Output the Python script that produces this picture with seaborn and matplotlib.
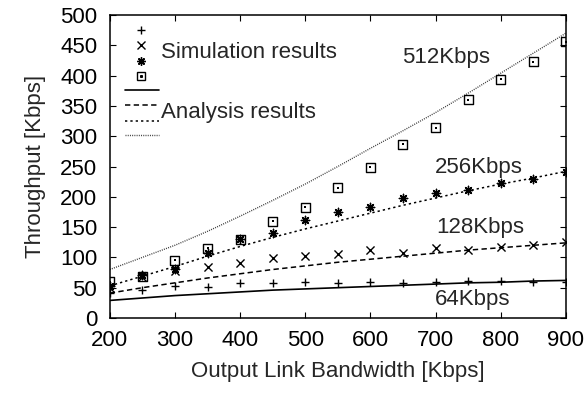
import numpy as np
import pandas as pd
import matplotlib
matplotlib.use("Agg")
import matplotlib.pyplot as plt
import seaborn as sns
from matplotlib.lines import Line2D

# Output link bandwidth [Kbps]
bandwidth = [200, 250, 300, 350, 400, 450, 500, 550, 600, 650, 700, 750, 800, 850, 900]

# Simulation results (throughput, Kbps) per input rate
sim_64 = [42, 46, 53, 51, 57, 57, 59, 58, 60, 57, 60, 61, 61, 59, 60]
sim_128 = [50, 68, 77, 84, 90, 99, 102, 106, 113, 107, 116, 113, 117, 120, 125]
sim_256 = [52, 71, 81, 107, 130, 140, 162, 175, 183, 198, 206, 212, 222, 230, 241]
sim_512 = [60, 69, 95, 115, 130, 160, 183, 215, 249, 287, 314, 360, 394, 423, 456]

# Analysis results (throughput, Kbps) per input rate
ana_64 = [29, 33, 37, 40, 43, 46, 48, 50, 52, 54, 56, 58, 59, 61, 62]
ana_128 = [41, 50, 58, 66, 73, 80, 86, 92, 97, 102, 107, 112, 116, 120, 124]
ana_256 = [53, 69, 85, 102, 118, 133, 147, 160, 173, 186, 198, 210, 221, 231, 242]
ana_512 = [80, 100, 120, 143, 168, 194, 221, 250, 280, 309, 339, 371, 404, 437, 470]

rates = ["64Kbps", "128Kbps", "256Kbps", "512Kbps"]
sim_series = [sim_64, sim_128, sim_256, sim_512]
ana_series = [ana_64, ana_128, ana_256, ana_512]

xticks = [200, 300, 400, 500, 600, 700, 800, 900]
yticks = [0, 50, 100, 150, 200, 250, 300, 350, 400, 450, 500]

sim_df = pd.DataFrame({
    "bw": np.tile(bandwidth, len(rates)),
    "thr": np.concatenate(sim_series),
    "rate": np.repeat(rates, len(bandwidth)),
})
ana_df = pd.DataFrame({
    "bw": np.tile(bandwidth, len(rates)),
    "thr": np.concatenate(ana_series),
    "rate": np.repeat(rates, len(bandwidth)),
})

sns.set_style("ticks")
plt.rcParams["font.family"] = ["Liberation Sans", "DejaVu Sans"]
FS = 16

fig = plt.figure(figsize=(5.87, 4.0), dpi=100)
ax = fig.add_axes([0.187, 0.205, 0.777, 0.7575])

line_styles = {
    "64Kbps": dict(ls="-", lw=1.2, color="black"),
    "128Kbps": dict(ls=(0, (3.5, 2.2)), lw=1.1, color="black"),
    "256Kbps": dict(ls=(0, (1.5, 2.0)), lw=1.1, color="black"),
    "512Kbps": dict(ls=(0, (0.7, 0.9)), lw=1.0, color="#3a3a3a"),
}
marker_styles = {
    "64Kbps": dict(marker="+", s=40, linewidths=1.0),
    "128Kbps": dict(marker="x", s=34, linewidths=1.0),
    "256Kbps": dict(marker=(8, 2, 0), s=36, linewidths=1.0),
    "512Kbps": dict(marker="s", s=42, linewidths=1.0),
}

for rate in rates:
    sub = ana_df[ana_df["rate"] == rate]
    st = line_styles[rate]
    sns.lineplot(data=sub, x="bw", y="thr", ax=ax, color=st["color"],
                 linestyle=st["ls"], linewidth=st["lw"], legend=False)

for rate in rates:
    sub = sim_df[sim_df["rate"] == rate]
    st = marker_styles[rate]
    if st["marker"] == "s":
        sns.scatterplot(data=sub, x="bw", y="thr", ax=ax, marker="s", s=st["s"],
                        facecolors="none", edgecolors="black",
                        linewidths=st["linewidths"], legend=False, zorder=3)
        sns.scatterplot(data=sub, x="bw", y="thr", ax=ax, marker="s", s=2,
                        color="black", linewidth=0, legend=False, zorder=3)
    else:
        sns.scatterplot(data=sub, x="bw", y="thr", ax=ax, marker=st["marker"],
                        s=st["s"], color="black", linewidths=st["linewidths"],
                        legend=False, zorder=3)

ax.set_xlim(200, 900)
ax.set_ylim(0, 500)
ax.set_xticks(xticks)
ax.set_yticks(yticks)
ax.tick_params(direction="in", length=4, width=0.8, top=True, right=True,
               labelsize=FS, colors="black")
ax.tick_params(axis="y", pad=9)
ax.tick_params(axis="x", pad=9)
for sp in ax.spines.values():
    sp.set_visible(True)
    sp.set_linewidth(1.1)
    sp.set_color("black")

ax.set_xlabel("Output Link Bandwidth [Kbps]", fontsize=FS, labelpad=7)
ax.set_ylabel("Throughput [Kbps]", fontsize=FS, labelpad=10)

# Legend: simulation markers stacked, analysis line styles stacked
tr = ax.transAxes
key_x = 0.069
for rate, ky in zip(rates, [0.95, 0.90, 0.848, 0.80]):
    st = marker_styles[rate]
    if st["marker"] == "s":
        ax.add_line(Line2D([key_x], [ky], transform=tr, marker="s", ms=5.5,
                           mfc="none", mec="black", mew=1.0, ls="none"))
        ax.add_line(Line2D([key_x], [ky], transform=tr, marker="s", ms=1.2,
                           color="black", ls="none"))
    else:
        ax.add_line(Line2D([key_x], [ky], transform=tr, marker=st["marker"],
                           ms=6, mew=1.0, color="black", ls="none"))
for rate, ky in zip(rates, [0.752, 0.702, 0.65, 0.604]):
    st = line_styles[rate]
    ax.add_line(Line2D([0.034, 0.107], [ky, ky], transform=tr,
                       color=st["color"], linestyle=st["ls"], linewidth=st["lw"]))
ax.text(0.113, 0.876, "Simulation results", transform=tr, fontsize=FS,
        va="center", ha="left")
ax.text(0.113, 0.678, "Analysis results", transform=tr, fontsize=FS,
        va="center", ha="left")

# Input-rate labels next to each curve
ax.text(649, 430, "512Kbps", fontsize=FS, va="center", ha="left")
ax.text(699, 249, "256Kbps", fontsize=FS, va="center", ha="left")
ax.text(701, 149, "128Kbps", fontsize=FS, va="center", ha="left")
ax.text(699, 30, "64Kbps", fontsize=FS, va="center", ha="left")

fig.savefig("out.png", dpi=100)
